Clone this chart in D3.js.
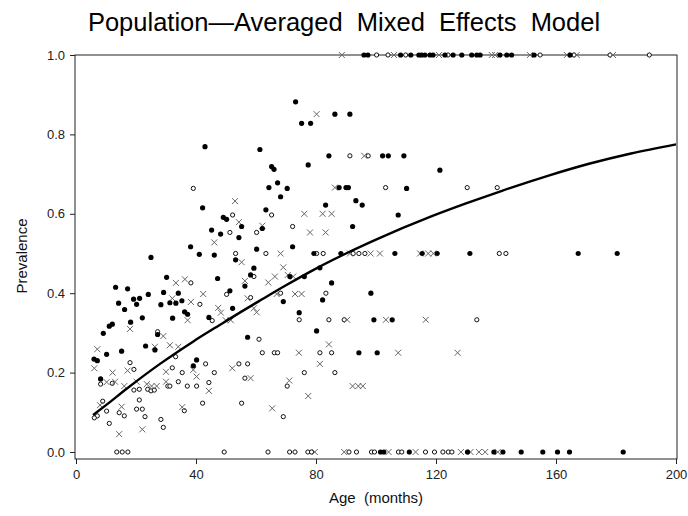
<!DOCTYPE html>
<html>
<head>
<meta charset="utf-8">
<script src="https://cdn.jsdelivr.net/npm/d3@7"></script>
<style>
  html, body { margin: 0; padding: 0; background: #fff; }
  svg { display: block; font-family: "Liberation Sans", Arial, Helvetica, sans-serif; }
</style>
</head>
<body>
<svg id="chart" width="688" height="516"></svg>
<script>
// Observed prevalence by age: [age in months, prevalence]
const filledPoints = [
  [96,1],[97.3,1],[108.2,1],[111.6,1],[114.3,1],[115.2,1],[116.3,1],[118,1],[119,1],[123,1],
  [125.7,1],[128.6,1],[131.9,1],[133.6,1],[134.7,1],[141.3,1],[143.6,1],[145.2,1],[152.7,1],[164.7,1],
  [101.5,0],[102.6,0],[111.1,0],[130.5,0],[139.3,0],[142.3,0],[148.4,0],[155.6,0],[160.5,0],[164.5,0],[182.4,0],
  [73.2,0.882],[86.3,0.851],[91.3,0.851],[75.2,0.828],[78.2,0.828],[43,0.769],[61.3,0.762],[65.2,0.719],
  [66,0.712],[77.4,0.723],[121.3,0.710],[84.3,0.746],[102.2,0.746],[104.1,0.746],[109.3,0.746],[67.2,0.678],
  [64.3,0.666],[70.4,0.664],[87.7,0.666],[90,0.666],[90.8,0.666],[110.2,0.664],[68.2,0.643],[83.2,0.622],
  [93.3,0.633],[95.4,0.622],[42.2,0.615],[63.3,0.610],[49.1,0.591],[50.2,0.586],[107.4,0.597],[55.2,0.568],
  [62.1,0.563],[92.2,0.568],[45.2,0.559],[48.2,0.549],[54.3,0.540],[38.2,0.517],[60.2,0.511],[72.2,0.517],
  [41.1,0.498],[46.1,0.496],[53.2,0.484],[25,0.490],
  [79.3,0.5],[88.3,0.5],[106.3,0.5],[115.4,0.5],[120.4,0.5],[131.3,0.5],[167.4,0.5],[180.4,0.5],
  [59.3,0.463],[81.3,0.464],[58.2,0.446],[30.2,0.440],[47.2,0.437],[71.3,0.442],[76.1,0.442],[56.3,0.418],
  [85.2,0.426],[13.2,0.415],[17.2,0.411],[51.3,0.406],[29.2,0.402],[24.1,0.397],[34.1,0.400],[98.3,0.4],
  [19.2,0.385],[21.2,0.387],[14.2,0.375],[20.2,0.372],[28.3,0.371],[31.3,0.376],[33.3,0.375],[35.3,0.381],
  [69.1,0.379],[82.2,0.383],[16.2,0.359],[36.2,0.353],[37.2,0.347],[52.2,0.362],[74.4,0.351],[22.1,0.338],
  [32.2,0.337],[44.3,0.339],[18.2,0.327],[11.1,0.317],[12.1,0.322],[99.3,0.333],[105.4,0.333],
  [80.2,0.305],[9.1,0.299],[27.2,0.296],[57.2,0.289],[10.2,0.246],[15.2,0.254],[23.2,0.267],[26.3,0.257],
  [6,0.234],[7.1,0.230],[40.2,0.232],[39.1,0.217],[8.2,0.184],[94.3,0.25],[100.4,0.25]
];

const openPoints = [
  [100.2,1],[104,1],[109.9,1],[124,1],[154.7,1],[166,1],[178,1],[191.1,1],
  [13.6,0],[15.4,0],[17.3,0],[49.4,0],[64,0],[71.2,0],[73,0],[77.3,0],[78.5,0],[91,0],[93.5,0],
  [98.5,0],[99.5,0],[107.5,0],[108.6,0],[116.5,0],[119.5,0],[122.3,0],[124.1,0],[125.3,0],
  [39.1,0.664],[91.3,0.746],[97.4,0.746],[103.2,0.666],[130.4,0.666],[140.4,0.666],[52.2,0.597],
  [65.2,0.597],[72.2,0.568],[51.3,0.553],[60.2,0.553],
  [53.2,0.5],[63.3,0.5],[80.2,0.5],[82.4,0.5],[92.4,0.5],[94.3,0.5],[96.3,0.5],[141.1,0.5],[143.3,0.5],
  [59.3,0.442],[38.3,0.426],[50.2,0.397],[41.3,0.372],[58.2,0.389],[68.2,0.4],[83.3,0.4],[45.4,0.331],
  [74.4,0.333],[84.3,0.333],[89.4,0.333],[133.6,0.333],
  [27.2,0.303],[61,0.284],[33.2,0.240],
  [62.1,0.25],[66.1,0.25],[67.2,0.25],[81.3,0.25],[85.2,0.25],
  [18,0.225],[19.3,0.208],[43.2,0.222],[54.3,0.222],[57.2,0.222],[32.1,0.212],[35.4,0.200],[46.1,0.200],
  [76.1,0.2],[86.3,0.2],[56.3,0.186],[8.2,0.171],[12.1,0.173],[19.3,0.156],[21.1,0.158],[23.9,0.158],
  [25,0.154],[26.1,0.156],[30.6,0.166],[31.3,0.166],[34.1,0.177],[37.1,0.166],[40.2,0.166],[44.3,0.175],
  [70.4,0.166],[8.9,0.128],[10.2,0.103],[7.1,0.091],[6.1,0.086],[14.4,0.099],[16.1,0.091],[11.1,0.072],
  [21.1,0.131],[20.2,0.108],[22.1,0.108],[23,0.089],[28.3,0.082],[29.1,0.062],[36.1,0.104],[42.2,0.123],
  [55.2,0.123],[69.1,0.089]
];

const crossPoints = [
  [88.6,1],[106,1],[121,1],[138.6,1],[139.7,1],[151.3,1],[163.6,1],[166.9,1],[179,1],
  [79.6,0],[89.4,0],[104.2,0],[113.2,0],[128.3,0],[131.5,0],[134.3,0],[136.4,0],[140.6,0],
  [80.2,0.851],[96.1,0.746],[86.3,0.666],[53,0.632],[76.1,0.6],[82.2,0.6],[85.2,0.6],[54.3,0.579],
  [62.1,0.570],[78,0.553],[83.2,0.553],[46.1,0.528],[55.2,0.478],
  [68.2,0.5],[91.3,0.5],[98.2,0.5],[101.3,0.5],[114.7,0.5],[117.4,0.5],[119.1,0.5],
  [69.1,0.465],[66.3,0.442],[64.1,0.427],[70.6,0.446],[72.4,0.442],[33.3,0.426],[36.3,0.435],[56.3,0.431],
  [42.4,0.398],[66.9,0.398],[73,0.398],[75.2,0.398],[32.1,0.387],[38.3,0.378],[57.2,0.387],[47.4,0.363],
  [48.3,0.351],[59.3,0.362],[60.2,0.352],[37.2,0.332],[49.9,0.332],[51.6,0.332],
  [90.4,0.333],[103.3,0.333],[116.6,0.333],
  [18,0.310],[29.1,0.292],[84.3,0.271],[7.1,0.259],[26.3,0.265],[31.3,0.269],[34.1,0.265],
  [74.3,0.25],[107.4,0.25],[127.2,0.25],
  [17.2,0.205],[52.1,0.211],[6.1,0.211],[12.2,0.2],[39.1,0.207],[30,0.202],[81.3,0.222],[58.2,0.186],
  [10.2,0.176],[13,0.177],[20.2,0.177],[16.1,0.166],[23.6,0.171],[25.2,0.166],[26.9,0.166],[30,0.177],
  [40.2,0.190],[44.3,0.154],[71.1,0.180],[92.2,0.166],[94.1,0.166],[95.6,0.166],[77.4,0.141],[8,0.118],
  [15.2,0.114],[35.4,0.113],[65.4,0.110],[22.1,0.057],[14.4,0.045]
];

// Fitted population-averaged prevalence curve
const curveAge  = [5.7, 10, 17, 28, 39, 49, 55, 61, 70, 80, 90, 100, 118, 130, 142, 157, 171, 185, 200];
const curvePrev = [0.093, 0.118, 0.160, 0.222, 0.278, 0.325, 0.353, 0.380, 0.420, 0.462, 0.500, 0.535, 0.592, 0.626, 0.658, 0.695, 0.726, 0.752, 0.775];

const xTicks = [0, 40, 80, 120, 160, 200];
const yTicks = [0, 0.2, 0.4, 0.6, 0.8, 1.0];

const svg = d3.select("#chart");

const x = d3.scaleLinear().domain([0, 200]).range([76, 676]);
const y = d3.scaleLinear().domain([0, 1]).range([452, 55]);

const frameLeft = 75, frameRight = 677, frameTop = 55, frameBottom = 459;

// Title
svg.append("text")
  .attr("x", 344).attr("y", 31)
  .attr("text-anchor", "middle")
  .attr("font-size", 25.5)
  .attr("fill", "#000")
  .style("white-space", "pre")
  .text("Population\u2014Averaged  Mixed  Effects  Model");

// Frame
svg.append("rect")
  .attr("x", frameLeft).attr("y", frameTop)
  .attr("width", frameRight - frameLeft).attr("height", frameBottom - frameTop)
  .attr("fill", "none").attr("stroke", "#222").attr("stroke-width", 1);

// Y axis
const yAxis = d3.axisLeft(y).tickValues(yTicks).tickFormat(d3.format(".1f")).tickSize(5).tickPadding(5);
const gy = svg.append("g").attr("transform", `translate(${frameLeft},0)`).call(yAxis);
gy.select(".domain").remove();
gy.selectAll("line").attr("stroke", "#222");
gy.selectAll("text").attr("font-size", 13).attr("fill", "#222")
  .attr("font-family", "'Liberation Sans', Arial, sans-serif");

// X axis
const xAxis = d3.axisBottom(x).tickValues(xTicks).tickFormat(d3.format("d")).tickSize(5).tickPadding(6);
const gx = svg.append("g").attr("transform", `translate(0,${frameBottom})`).call(xAxis);
gx.select(".domain").remove();
gx.selectAll("line").attr("stroke", "#222");
gx.selectAll("text").attr("font-size", 13).attr("fill", "#222")
  .attr("font-family", "'Liberation Sans', Arial, sans-serif");

// Axis labels
svg.append("text")
  .attr("x", 376).attr("y", 503)
  .attr("text-anchor", "middle").attr("font-size", 15).attr("fill", "#111")
  .style("white-space", "pre")
  .text("Age  (months)");

svg.append("text")
  .attr("transform", "translate(27,256) rotate(-90)")
  .attr("text-anchor", "middle").attr("font-size", 15).attr("fill", "#111")
  .text("Prevalence");

// Markers
const marks = svg.append("g");

marks.selectAll("circle.open").data(openPoints).join("circle")
  .attr("class", "open")
  .attr("cx", d => x(d[0])).attr("cy", d => y(d[1]))
  .attr("r", 2.1)
  .attr("fill", "#fff").attr("stroke", "#111").attr("stroke-width", 1);

marks.selectAll("path.cross").data(crossPoints).join("path")
  .attr("class", "cross")
  .attr("transform", d => `translate(${x(d[0])},${y(d[1])})`)
  .attr("d", "M-3,-3L3,3M-3,3L3,-3")
  .attr("stroke", "#666").attr("stroke-width", 1).attr("fill", "none");

marks.selectAll("circle.filled").data(filledPoints).join("circle")
  .attr("class", "filled")
  .attr("cx", d => x(d[0])).attr("cy", d => y(d[1]))
  .attr("r", 2.6)
  .attr("fill", "#000");

// Fitted curve
const line = d3.line()
  .x((d, i) => x(curveAge[i]))
  .y((d, i) => y(curvePrev[i]))
  .curve(d3.curveMonotoneX);

svg.append("path")
  .datum(curveAge)
  .attr("d", line)
  .attr("fill", "none")
  .attr("stroke", "#000")
  .attr("stroke-width", 2.4);
</script>
</body>
</html>
